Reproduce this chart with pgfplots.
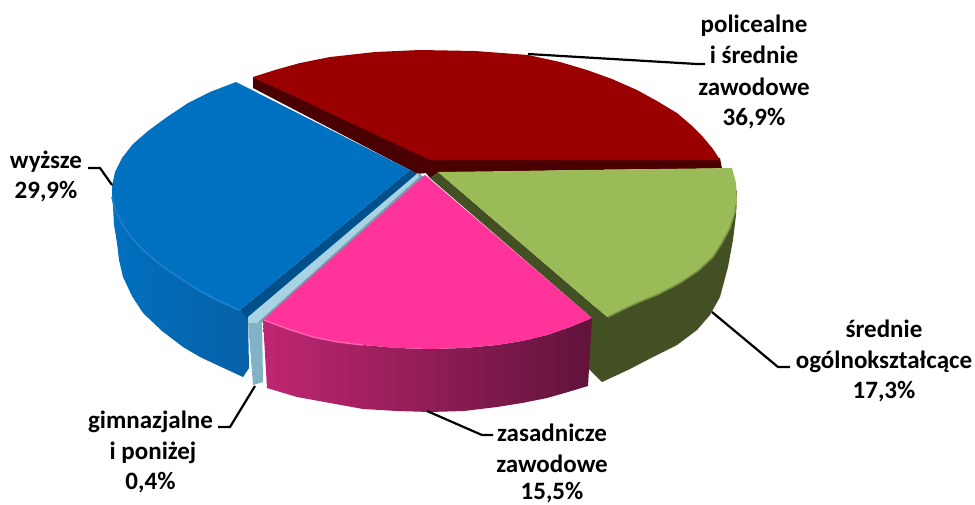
\documentclass[border=0pt]{standalone}
\usepackage{pgfplots}
\pgfplotsset{compat=1.18}
\usepackage{fontspec}
\setmainfont{Carlito}
\definecolor{redT}{HTML}{9A0000}
\definecolor{redD}{HTML}{4A0000}
\definecolor{grnT}{HTML}{9BBB59}
\definecolor{grnS}{HTML}{435024}
\definecolor{bluT}{HTML}{0070C0}
\definecolor{bluS}{HTML}{0869B6}
\definecolor{bluD}{HTML}{00508C}
\definecolor{pnkT}{HTML}{FF3399}
\definecolor{lbT}{HTML}{A9D3E3}
\definecolor{lbS}{HTML}{82B2C6}
\begin{document}
\begin{tikzpicture}[x=1pt,y=1pt]
\path[use as bounding box] (0,0) rectangle (975,504);
\begin{axis}[at={(0,0)},anchor=south west,scale only axis,width=975pt,height=504pt,
  xmin=0,xmax=975,ymin=0,ymax=504,y dir=reverse,hide axis,clip=false]
% red slice
\addplot[draw=none,fill=redD] coordinates {(253,77)(253,88)(410,170)(417,174)(426,173)(430,178)(438,173)(580,170)(722,168.5)(720,158)(430,158)} -- cycle;
\addplot[draw=none,fill=redT] coordinates {(253,77)(275,70)(300,63)(330,57)(375,52)(420,50)(475,51)(528,55)(560,62)(587,70)(612,79)(637,90)(657,101)(677,113)(691,125)(703,137)(713,149)(720,160)(430,160)} -- cycle;
% blue slice
\addplot[draw=none,left color=bluT,right color=bluS!92!black] coordinates {(112,190)(113,207)(114,225)(117,243)(119,260)(123,277)(132,296)(143,313)(162,331)(183,347)(200,357)(217,365)(243,377)(249,368)(248,318)(240,310)(112,190)} -- cycle;
\addplot[draw=none,fill=bluD] coordinates {(410,170)(417,174)(248,319)(240,310)} -- cycle;
\addplot[draw=none,fill=bluT] coordinates {(236,82)(210,92)(188,103)(167,117)(148,131)(133,144)(122,158)(115,172)(112,186)(112,197)(115,209)(122,224)(132,238)(143,250)(162,266)(183,280)(200,291)(217,300)(240,310)(410,170)} -- cycle;
\addplot[line width=1.6pt,color=bluT!88!white] coordinates {(112,197)(115,209)(122,224)(132,238)(143,250)(162,266)(183,280)(200,291)(217,300)(239,310)};
% light blue slice
\addplot[draw=none,fill=lbS] coordinates {(248,322)(253,385)(263,382)(262,320)} -- cycle;
\addplot[draw=none,fill=lbS!90!black] coordinates {(418,173)(424,177)(263,322)(257,322)} -- cycle;
\addplot[draw=none,fill=lbT] coordinates {(418,173)(419,177)(257,323)(248,323)(248,317)} -- cycle;
% green slice
\addplot[draw=none,fill=grnS] coordinates {(737,190)(736,215)(733,240)(728,267)(720,297)(710,315)(697,330)(677,345)(653,357)(628,370)(602,382)(585,365)(590,310)(650,290)(700,250)} -- cycle;
\addplot[draw=none,fill=grnS] coordinates {(438,172)(430,178)(592,318)(607,317)} -- cycle;
\addplot[draw=none,fill=grnT] coordinates {(732,168)(736,183)(737,200)(735,213)(730,228)(722,243)(713,257)(698,271)(680,283)(659,294)(637,303)(622,310)(607,317)(438,172)} -- cycle;
\addplot[line width=1.5pt,color=grnT!60!grnS] coordinates {(736,205)(735,213)(730,228)(722,243)(713,257)(698,271)(680,283)(659,294)(637,303)(622,310)(608,317)};
% pink slice
\addplot[draw=none,left color=pnkT!75!black,middle color=pnkT!55!black,right color=pnkT!38!black] coordinates {(263,320)(288,329)(313,337)(338,342)(363,345)(397,348)(430,349)(464,348)(497,345)(522,341)(547,335)(570,327)(592,318)(588,386)(568,392)(547,398)(522,403)(497,407)(464,411)(430,412)(397,411)(363,409)(330,403)(297,397)(267,388)} -- cycle;
\addplot[draw=none,fill=pnkT] coordinates {(425,175)(592,318)(570,327)(547,335)(522,341)(497,345)(464,348)(430,349)(397,348)(363,345)(338,342)(313,337)(288,329)(263,320)} -- cycle;
\addplot[line width=1.4pt,color=pnkT!75!white] coordinates {(264,320)(288,329)(313,337)(338,342)(363,345)};
% leader lines
\addplot[black,line width=2.2pt] coordinates {(528,54)(697,64)(705,64)};
\addplot[black,line width=2.2pt] coordinates {(88,168)(100,168)(112,185)};
\addplot[black,line width=2.2pt] coordinates {(712,312)(778,367)(790,367)};
\addplot[black,line width=2.2pt] coordinates {(255,386)(230,427)(218,427)};
\addplot[black,line width=2.2pt] coordinates {(427,411)(482,435)(493,435)};
% labels
\tikzset{lab/.style={font=\fontsize{25}{30}\selectfont\bfseries,text=black,inner sep=0pt,anchor=base}}
\node[lab] at (axis cs:754,32) {policealne};
\node[lab] at (axis cs:754,63) {i średnie};
\node[lab] at (axis cs:754,95) {zawodowe};
\node[lab] at (axis cs:754,125) {36,9\%};
\node[lab] at (axis cs:46,168) {wyższe};
\node[lab] at (axis cs:46,198) {29,9\%};
\node[lab] at (axis cs:884,337) {średnie};
\node[lab] at (axis cs:884,368) {ogólnokształcące};
\node[lab] at (axis cs:884,398) {17,3\%};
\node[lab] at (axis cs:150.5,428) {gimnazjalne};
\node[lab] at (axis cs:153,459) {i poniżej};
\node[lab] at (axis cs:150.5,489) {0,4\%};
\node[lab] at (axis cs:552,441) {zasadnicze};
\node[lab] at (axis cs:552,472) {zawodowe};
\node[lab] at (axis cs:552,499) {15,5\%};
\end{axis}
\end{tikzpicture}
\end{document}
